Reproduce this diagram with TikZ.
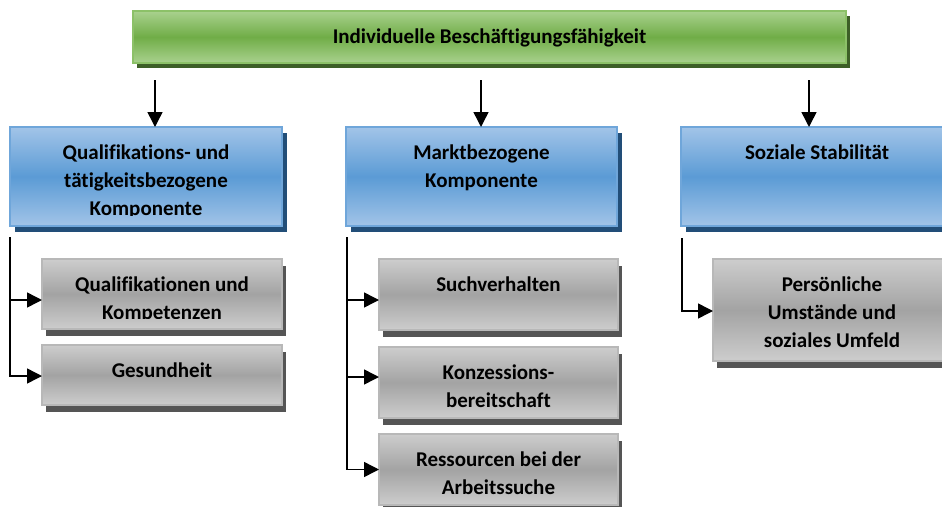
\documentclass[tikz,border=0pt]{standalone}
\usepackage{fontspec}
\setmainfont{Carlito}[Ligatures={NoCommon}]
\usetikzlibrary{arrows.meta,shadows}
\definecolor{gtop}{HTML}{A9D18E}
\definecolor{gmid}{HTML}{70AD47}
\definecolor{gbrd}{HTML}{8CC168}
\definecolor{gsh}{HTML}{3D5F27}
\definecolor{btop}{HTML}{A2C4E8}
\definecolor{bmid}{HTML}{5B9BD5}
\definecolor{bbrd}{HTML}{6FA6DA}
\definecolor{bsh}{HTML}{224E78}
\definecolor{ktop}{HTML}{CDCDCD}
\definecolor{kmid}{HTML}{A3A3A3}
\definecolor{kbrd}{HTML}{B8B8B8}
\definecolor{ksh}{HTML}{555555}
\tikzset{
  basebox/.style={rectangle, anchor=north west, inner sep=0pt, outer sep=0pt, line width=1.6pt},
  greenbox/.style={basebox, draw=gbrd, top color=gtop, bottom color=gtop, middle color=gmid,
     general shadow={fill=gsh, shadow xshift=4pt, shadow yshift=-5pt}},
  bluebox/.style={basebox, draw=bbrd, top color=btop, bottom color=btop, middle color=bmid,
     general shadow={fill=bsh, shadow xshift=5pt, shadow yshift=-6pt}},
  graybox/.style={basebox, draw=kbrd, top color=ktop, bottom color=ktop, middle color=kmid,
     general shadow={fill=ksh, shadow xshift=4pt, shadow yshift=-7pt}},
  txt/.style={anchor=base, inner sep=0pt, font=\fontsize{21}{28}\selectfont\bfseries},
  arr/.style={line width=1.5pt, -{Triangle[length=15pt,width=15pt]}}
}
\newcommand\boxtext[3]{%
  \begin{scope}
    \clip (#1.north west) rectangle ([yshift=10.5pt]#1.south east);
    \node[txt] (#2) at ([yshift=-32pt]#1.north) {\parbox[t]{700pt}{\centering #3}};
  \end{scope}}
\begin{document}
\begin{tikzpicture}[x=1pt,y=-1pt]
\clip (0,0) rectangle (942,506);
\useasboundingbox (0,0) rectangle (942,506);
\fill[white] (0,0) rectangle (942,506);
% boxes
\node[greenbox, minimum width=713pt, minimum height=52pt] (top) at (133,11) {};
\node[bluebox, minimum width=272pt, minimum height=99pt] (b1) at (10,127) {};
\node[bluebox, minimum width=271pt, minimum height=99pt] (b2) at (346,127) {};
\node[bluebox, minimum width=272pt, minimum height=99pt] (b3) at (681,127) {};
\node[graybox, minimum width=240pt, minimum height=70pt] (g11) at (42,259) {};
\node[graybox, minimum width=240pt, minimum height=60pt] (g12) at (42,345) {};
\node[graybox, minimum width=239pt, minimum height=71pt] (g21) at (379,259) {};
\node[graybox, minimum width=239pt, minimum height=71pt] (g22) at (379,347) {};
\node[graybox, minimum width=239pt, minimum height=71pt] (g23) at (379,434) {};
\node[graybox, minimum width=238pt, minimum height=102pt] (g31) at (713,259) {};
% texts
\boxtext{top}{ttop}{Individuelle Beschäftigungsfähigkeit}
\boxtext{b1}{tb1}{Qualifikations- und\\tätigkeitsbezogene\\Komponente}
\boxtext{b2}{tb2}{Marktbezogene\\Komponente}
\boxtext{b3}{tb3}{Soziale Stabilität}
\boxtext{g11}{tg11}{Qualifikationen und\\Kompetenzen}
\boxtext{g12}{tg12}{Gesundheit}
\boxtext{g21}{tg21}{Suchverhalten}
\boxtext{g22}{tg22}{Konzessions-\\bereitschaft}
\boxtext{g23}{tg23}{Ressourcen bei der\\Arbeitssuche}
\boxtext{g31}{tg31}{Persönliche\\Umstände und\\soziales Umfeld}
% top arrows
\coordinate (a1) at (155,80);
\coordinate (a2) at (481,80);
\coordinate (a3) at (809,80);
\draw[arr] (a1) -- (a1 |- b1.north);
\draw[arr] (a2) -- (a2 |- b2.north);
\draw[arr] (a3) -- (a3 |- b3.north);
% side connectors
\coordinate (s1) at (10,237);
\coordinate (s2) at (347,237);
\coordinate (s3) at (682,238);
\draw[arr] (s1) |- ([yshift=-6pt]g11.west);
\draw[arr] (s1) |- ([yshift=-1pt]g12.west);
\draw[arr] (s2) |- ([yshift=-5.5pt]g21.west);
\draw[arr] (s2) |- ([yshift=5.5pt]g22.west);
\draw[arr] (s2) |- (g23.west);
\draw[arr] (s3) |- ([yshift=-1pt]g31.west);
\end{tikzpicture}
\end{document}
